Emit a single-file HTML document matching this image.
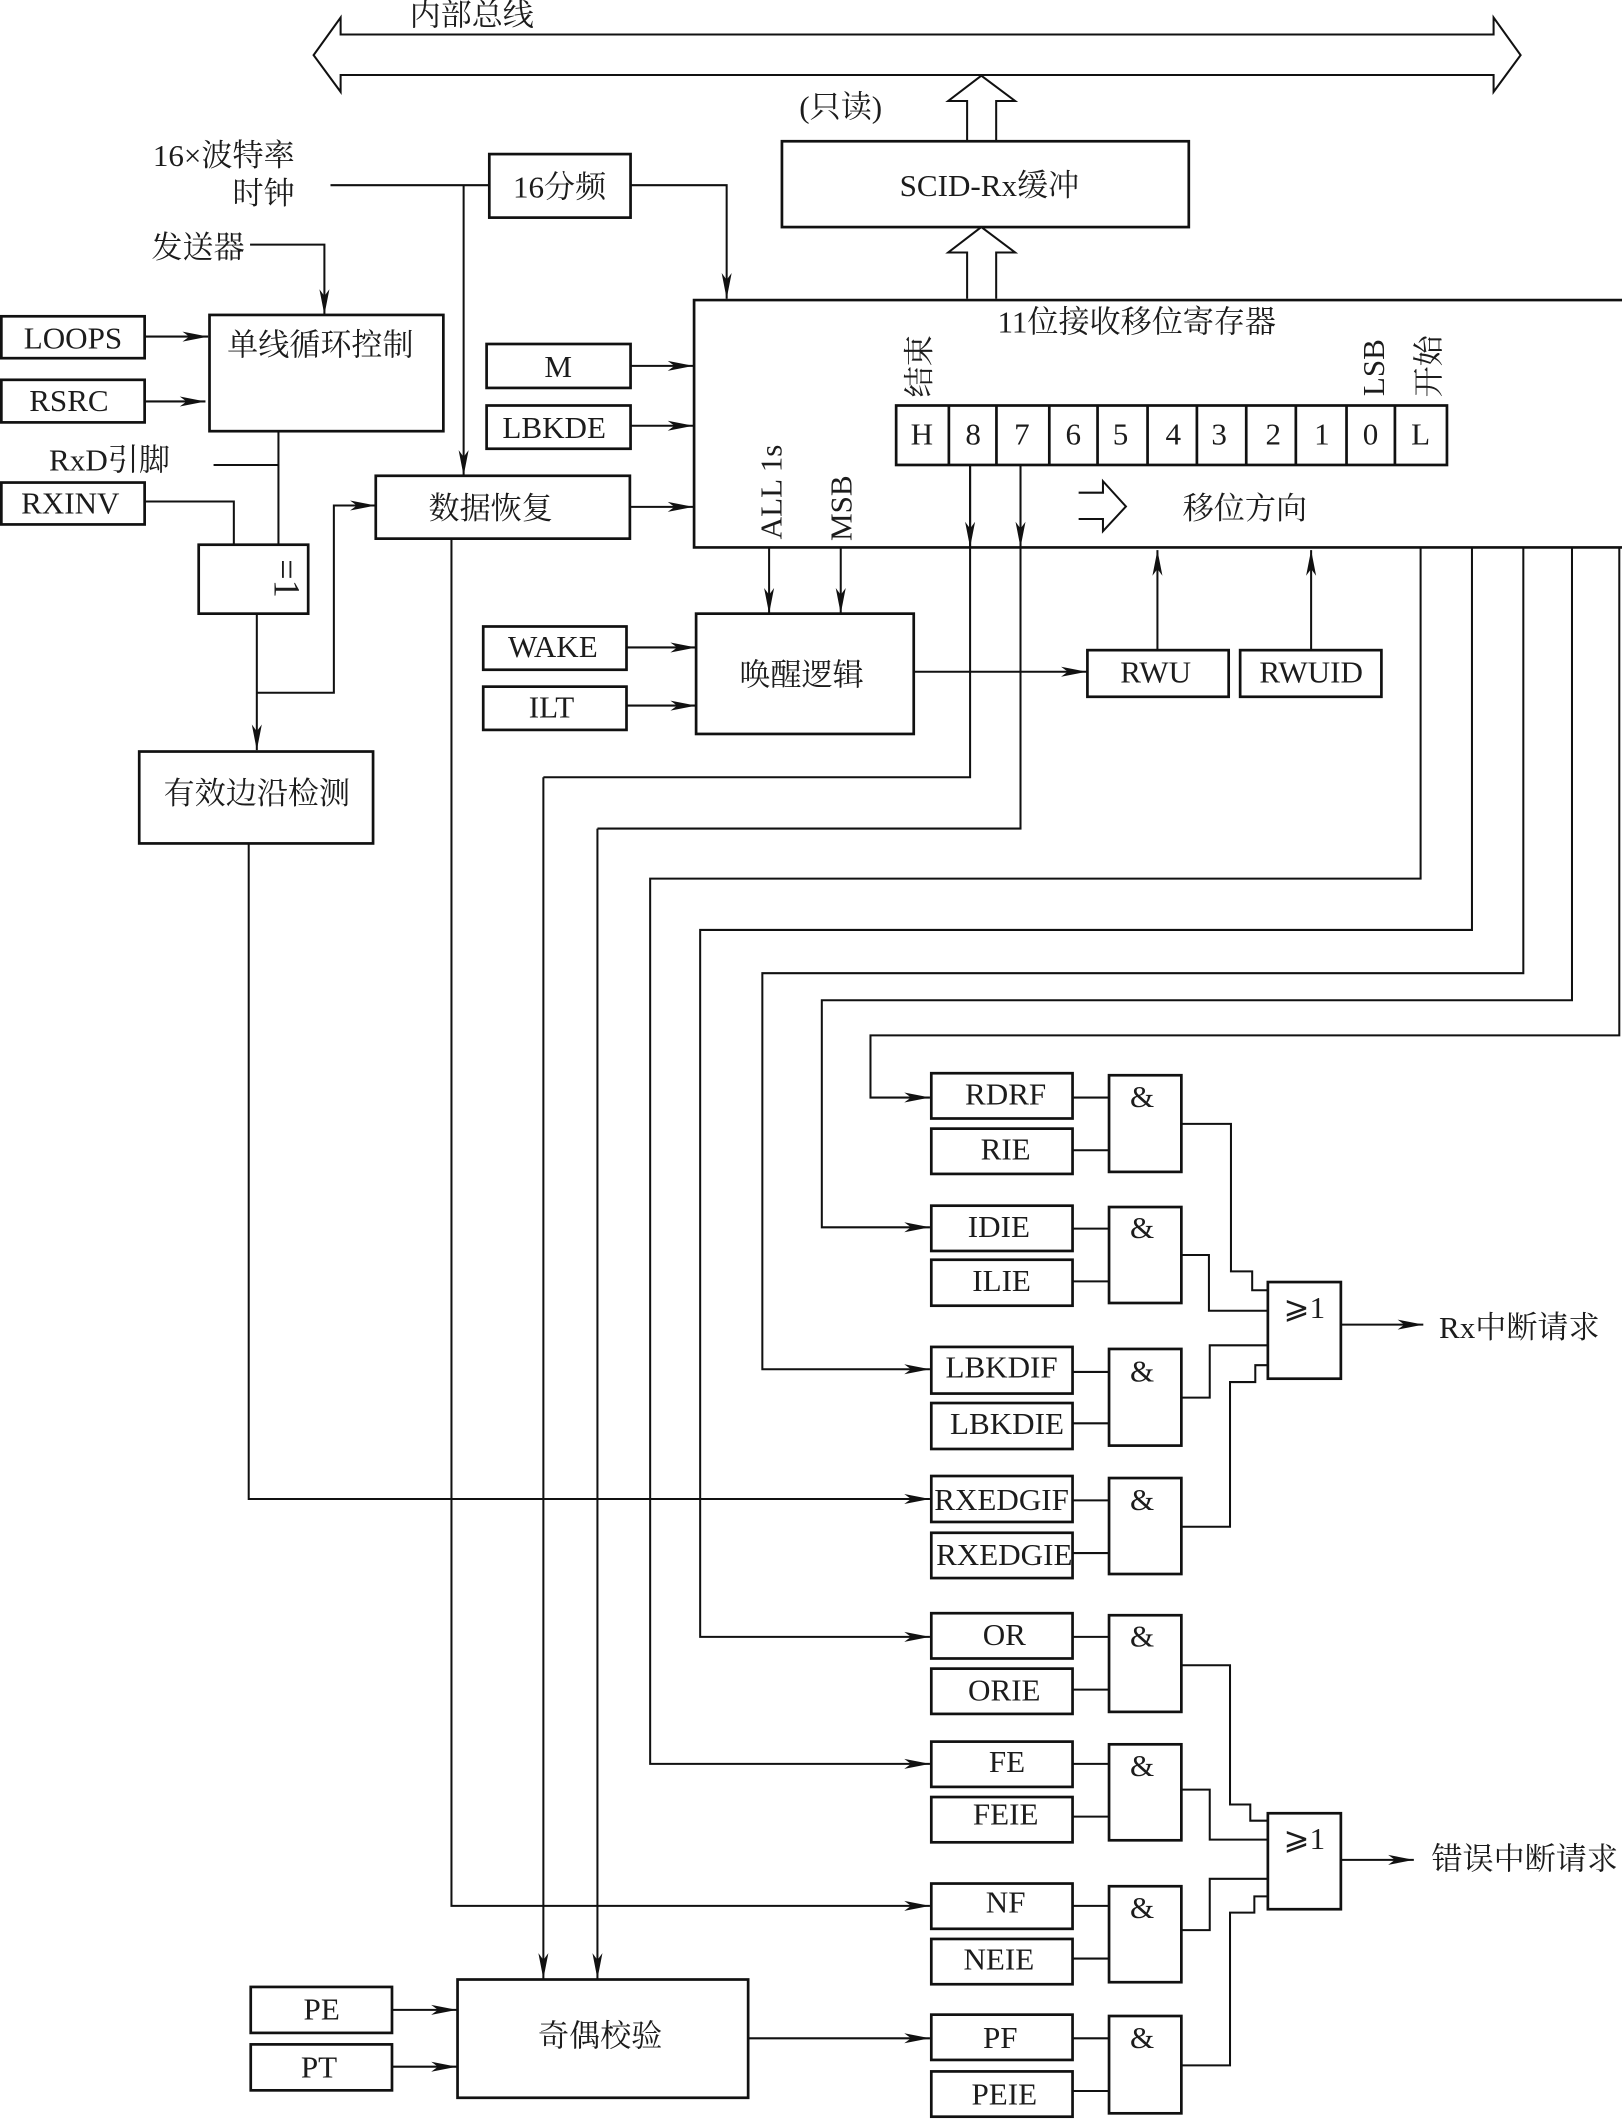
<!DOCTYPE html>
<html><head><meta charset="utf-8"><style>
html,body{margin:0;padding:0;background:#fff}
svg{display:block}
text{font-family:"Liberation Serif","Noto Serif CJK SC","DejaVu Serif",serif;font-size:23px;fill:#1c1c1c;text-anchor:middle}
.b{fill:#fff;stroke:#111;stroke-width:2}
.l{fill:none;stroke:#111;stroke-width:1.5}
.a{fill:none;stroke:#111;stroke-width:1.5;marker-end:url(#ar)}
.h{fill:#fff;stroke:#111;stroke-width:1.5}
.e{text-anchor:end}
</style></head><body>
<svg width="1622" height="2119" viewBox="0 0 1200 1567.7" xmlns="http://www.w3.org/2000/svg">
<defs><marker id="ar" markerUnits="userSpaceOnUse" markerWidth="22" markerHeight="10" refX="20" refY="5" orient="auto"><path d="M1 1.300L20 5L1 8.700L6 5Z" fill="#111"/></marker></defs>
<rect width="1200" height="1568" fill="#fff"/>

<!-- bus -->
<path class="h" d="M252 25.500V13L232 40.800L252 68V55.500H1105V68L1125 40.800L1105 13V25.500Z"/>
<text x="349" y="19">内部总线</text>
<path class="h" d="M715.500 104V74.700H701.500L726 56L751 74.700H737V104"/>
<path class="h" d="M715.500 221V186.800H701.500L726 168L751 186.800H737V221"/>
<text x="622" y="87">(只读)</text>
<rect class="b" x="578.500" y="104.500" width="301" height="63.500"/>
<text x="732" y="145">SCID-Rx缓冲</text>

<!-- register -->
<path class="b" d="M1201 222H513.500V405H1201"/>
<text x="841" y="246">11位接收移位寄存器</text>
<rect class="b" x="663" y="300" width="407.500" height="44"/>
<path class="l" style="stroke-width:2" d="M702 300V344M737.200 300V344M776.300 300V344M812 300V344M849 300V344M885.500 300V344M922 300V344M958.700 300V344M996.200 300V344M1032 300V344"/>
<text x="682" y="329">H</text><text x="720" y="329">8</text><text x="756" y="329">7</text><text x="794" y="329">6</text><text x="829" y="329">5</text><text x="868" y="329">4</text><text x="902" y="329">3</text><text x="942" y="329">2</text><text x="978" y="329">1</text><text x="1014" y="329">0</text><text x="1051" y="329">L</text>
<text transform="translate(688 271) rotate(-90)">结束</text>
<text transform="translate(1024 272) rotate(-90)">LSB</text>
<text transform="translate(1065 271) rotate(-90)">开始</text>
<text transform="translate(578 364) rotate(-90)">ALL 1s</text>
<text transform="translate(630 376) rotate(-90)">MSB</text>
<path class="l" d="M798 364.500H816V356L833 374.700L816 393V384H798"/>
<text x="921" y="384">移位方向</text>

<!-- left top -->
<text class="e" x="218" y="123">16×波特率</text>
<text class="e" x="218" y="151">时钟</text>
<text class="e" x="181" y="191">发送器</text>
<path class="l" d="M244.500 137H362"/>
<path class="a" d="M343 137V352"/>
<rect class="b" x="362" y="114" width="104.500" height="47"/>
<text x="414" y="146">16分频</text>
<path class="a" d="M466.500 137H537.600V221"/>
<path class="a" d="M185 181H240V233"/>
<rect class="b" x="155" y="233" width="173" height="86"/>
<text x="237" y="263">单线循环控制</text>
<rect class="b" x="1" y="234" width="106" height="31"/><text x="54" y="258">LOOPS</text>
<rect class="b" x="1" y="281" width="106" height="31.500"/><text x="51" y="304">RSRC</text>
<rect class="b" x="1" y="357" width="106" height="31"/><text x="52" y="380">RXINV</text>
<path class="a" d="M107 249H154"/>
<path class="a" d="M107 297H152"/>
<text x="81" y="348">RxD引脚</text>
<path class="l" d="M158 344H206M206 319V403M107 371H173V403"/>
<rect class="b" x="147" y="403" width="81" height="51"/>
<text style="font-size:27px" transform="translate(203 428) rotate(90)">=1</text>
<path class="a" d="M190 454V555"/>
<path class="a" d="M190 512.500H247V374H278"/>
<rect class="b" x="278" y="352" width="188" height="46.500"/>
<text x="363" y="384">数据恢复</text>
<path class="a" d="M466 375H513"/>
<rect class="b" x="360" y="254.500" width="106.500" height="32.500"/><text x="413" y="279">M</text>
<rect class="b" x="360" y="300" width="106.500" height="32"/><text x="410" y="324">LBKDE</text>
<path class="a" d="M466.500 270.700H513"/>
<path class="a" d="M466.500 315H513"/>

<!-- connectors -->
<path class="l" d="M717.700 344V575H402"/>
<path class="a" d="M717.700 344V405"/>
<path class="a" d="M402 575V1464"/>
<path class="l" d="M755 344V613H442"/>
<path class="a" d="M755 344V405"/>
<path class="a" d="M442 613V1464"/>
<path class="a" d="M1051 405V650H481V1305H688"/>
<path class="a" d="M1089 405V688H518V1211H688"/>
<path class="a" d="M1127 405V720H564V1013H688"/>
<path class="a" d="M1163 405V740H608V908H688"/>
<path class="a" d="M1198 405V766H644V812H688"/>
<path class="a" d="M334 398.500V1410H688"/>
<path class="a" d="M184 624V1109H688"/>

<!-- wake -->
<path class="a" d="M569 405V454"/>
<path class="a" d="M622 405V454"/>
<rect class="b" x="515" y="454" width="161" height="89"/>
<text x="593" y="507">唤醒逻辑</text>
<rect class="b" x="357.500" y="463.500" width="106" height="32"/><text x="409" y="486">WAKE</text>
<rect class="b" x="357.500" y="508" width="106" height="32"/><text x="408" y="531">ILT</text>
<path class="a" d="M463.500 479H515"/>
<path class="a" d="M463.500 522H515"/>
<path class="a" d="M676 497H804"/>
<rect class="b" x="804.500" y="481" width="104.500" height="34.500"/><text x="855" y="505">RWU</text>
<rect class="b" x="917.500" y="481" width="104.500" height="34.500"/><text x="970" y="505">RWUID</text>
<path class="a" d="M856.300 481V407"/>
<path class="a" d="M970 481V407"/>
<rect class="b" x="103" y="556" width="173" height="68"/>
<text x="190" y="595">有效边沿检测</text>

<!-- group 1 -->
<rect class="b" x="689" y="794" width="104.500" height="33.500"/><text x="744" y="817">RDRF</text>
<rect class="b" x="689" y="835" width="104.500" height="33.500"/><text x="744" y="858">RIE</text>
<rect class="b" x="689" y="892" width="104.500" height="33.500"/><text x="739" y="915">IDIE</text>
<rect class="b" x="689" y="932" width="104.500" height="34"/><text x="741" y="955">ILIE</text>
<rect class="b" x="689" y="996.500" width="104.500" height="34.500"/><text x="741" y="1019">LBKDIF</text>
<rect class="b" x="689" y="1038" width="104.500" height="34"/><text x="745" y="1061">LBKDIE</text>
<rect class="b" x="689" y="1092" width="104.500" height="34"/><text x="741" y="1117">RXEDGIF</text>
<rect class="b" x="689" y="1134" width="104.500" height="33.500"/><text x="743" y="1158">RXEDGIE</text>
<path class="l" d="M793.500 812H820M793.500 851H820M793.500 909H820M793.500 948H820M793.500 1015H820M793.500 1053H820M793.500 1110H820M793.500 1149H820"/>
<rect class="b" x="820.500" y="795.500" width="53.500" height="71.500"/><text x="845" y="819">&amp;</text>
<rect class="b" x="820.500" y="893" width="53.500" height="71"/><text x="845" y="916">&amp;</text>
<rect class="b" x="820.500" y="998" width="53.500" height="71.500"/><text x="845" y="1022">&amp;</text>
<rect class="b" x="820.500" y="1093.500" width="53.500" height="71"/><text x="845" y="1117">&amp;</text>
<path class="l" d="M874 831.500H910.700V940.600H926.400V954.600H938"/>
<path class="l" d="M874 928.500H894.400V969.700H938"/>
<path class="l" d="M874 1034H895V995.300H938"/>
<path class="l" d="M874 1129.500H910V1022.500H928.700V1010H938"/>
<rect class="b" x="938" y="948.500" width="54" height="71.500"/>
<text x="965" y="975">⩾1</text>
<path class="a" d="M992 980H1053"/>
<text x="1124" y="990">Rx中断请求</text>

<!-- group 2 -->
<rect class="b" x="689" y="1193.500" width="104.500" height="33.500"/><text x="743" y="1217">OR</text>
<rect class="b" x="689" y="1234.500" width="104.500" height="33.500"/><text x="743" y="1258">ORIE</text>
<rect class="b" x="689" y="1288.500" width="104.500" height="33.500"/><text x="745" y="1311">FE</text>
<rect class="b" x="689" y="1329.500" width="104.500" height="33.500"/><text x="744" y="1350">FEIE</text>
<rect class="b" x="689" y="1393.500" width="104.500" height="33.500"/><text x="744" y="1415">NF</text>
<rect class="b" x="689" y="1434.500" width="104.500" height="33.500"/><text x="739" y="1457">NEIE</text>
<rect class="b" x="689" y="1490.500" width="104.500" height="33.500"/><text x="740" y="1515">PF</text>
<rect class="b" x="689" y="1532.500" width="104.500" height="33.500"/><text x="743" y="1557">PEIE</text>
<path class="l" d="M793.500 1211H820M793.500 1250H820M793.500 1305H820M793.500 1344H820M793.500 1410H820M793.500 1449H820M793.500 1508H820M793.500 1547H820"/>
<rect class="b" x="820.500" y="1195" width="53.500" height="71.500"/><text x="845" y="1218">&amp;</text>
<rect class="b" x="820.500" y="1290.500" width="53.500" height="71"/><text x="845" y="1314">&amp;</text>
<rect class="b" x="820.500" y="1395.500" width="53.500" height="71"/><text x="845" y="1419">&amp;</text>
<rect class="b" x="820.500" y="1491.500" width="53.500" height="72"/><text x="845" y="1515">&amp;</text>
<path class="l" d="M874 1232H910V1335H925V1347H938"/>
<path class="l" d="M874 1324H895V1361H938"/>
<path class="l" d="M874 1428H895V1390H938"/>
<path class="l" d="M874 1528H910V1415H928V1403H938"/>
<rect class="b" x="938" y="1341.500" width="54" height="71"/>
<text x="965" y="1368">⩾1</text>
<path class="a" d="M992 1376H1046"/>
<text x="1128" y="1383">错误中断请求</text>

<!-- parity -->
<rect class="b" x="338.500" y="1464.500" width="215" height="87.500"/>
<text x="444" y="1514">奇偶校验</text>
<rect class="b" x="185.500" y="1470" width="104.500" height="34"/><text x="238" y="1494">PE</text>
<rect class="b" x="185.500" y="1512.500" width="104.500" height="34"/><text x="236" y="1537">PT</text>
<path class="a" d="M290 1487H338"/>
<path class="a" d="M290 1529H338"/>
<path class="a" d="M553.500 1508H688"/>
</svg>
</body></html>
